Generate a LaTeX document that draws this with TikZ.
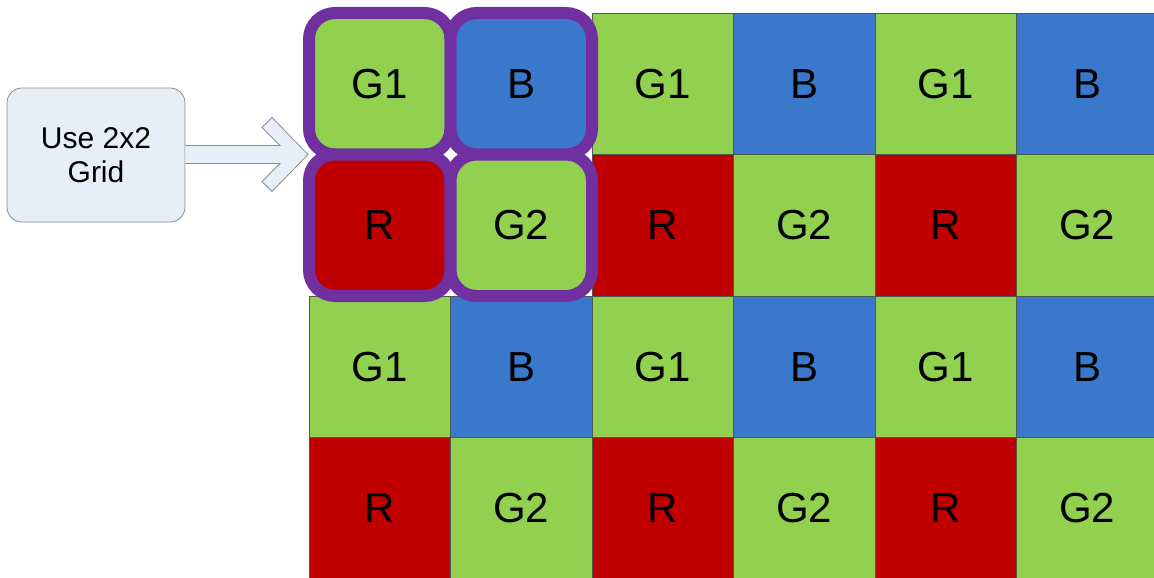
\documentclass[tikz,border=0pt]{standalone}
\usepackage{fontspec}
\setmainfont{Liberation Sans}
\usetikzlibrary{calc}
\definecolor{bayergreen}{HTML}{92D050}
\definecolor{bayerblue}{HTML}{3A78CC}
\definecolor{bayerred}{HTML}{C00000}
\definecolor{pickpurple}{HTML}{7030A0}
\definecolor{boxfill}{HTML}{E8EEF7}
\definecolor{boxline}{HTML}{8C8C8C}
\definecolor{cellline}{HTML}{4D5A4D}

\begin{document}
\begin{tikzpicture}[x=1pt, y=-1pt,
    cell/.style={draw=cellline, line width=0.8pt, minimum size=141.5pt, inner sep=0pt,
      outer sep=0pt, font=\fontsize{42}{50}\selectfont},
    pick/.style={cell, draw=pickpurple, line width=12pt, rounded corners=26pt},
    usebox/.style={draw=boxline, line width=0.8pt, fill=boxfill, rounded corners=15pt,
      minimum width=178pt, minimum height=134pt, align=center,
      font=\fontsize{30}{34}\selectfont},
    blockarrow/.style={draw=boxline, line width=0.8pt, fill=boxfill, line join=miter}]
    \useasboundingbox (0,0) rectangle (1154,578);

    % --- bayer mosaic, rows of G1/B and R/G2 ---
    \foreach \r/\cstart/\ea/\eb/\ca/\cb in {0/2/G1/B/bayergreen/bayerblue,
        1/2/R/G2/bayerred/bayergreen, 2/0/G1/B/bayergreen/bayerblue,
        3/0/R/G2/bayerred/bayergreen} {
      \foreach \c in {\cstart,...,5} {
        \ifodd\c\relax \def\lab{\eb}\def\col{\cb}\else \def\lab{\ea}\def\col{\ca}\fi
        \node[cell, fill=\col] (c\r\c) at ({379.75+141.5*\c},{83.75+141.5*\r}) {\lab};
      }
    }

    % --- the 2x2 block that is picked out ---
    \node[pick, fill=bayergreen] (c00) at (379.75,83.75) {G1};
    \node[pick, fill=bayerblue] (c01) at (521.25,83.75) {B};
    \node[pick, fill=bayerred] (c10) at (379.75,225.25) {R};
    \node[pick, fill=bayergreen] (c11) at (521.25,225.25) {G2};

    % --- label box and its arrow ---
    \node[usebox] (usegrid) at (96,155) {Use 2x2\\Grid};
    \coordinate (tip) at ($(c00.south west)+(-1,0)$);
    \draw[blockarrow]
      ($(usegrid.east |- tip)+(0,-9)$) -- ($(tip)+(-28,-9)$) -- ($(tip)+(-46,-27)$)
      -- ($(tip)+(-36,-37)$) -- (tip) -- ($(tip)+(-36,37)$) -- ($(tip)+(-46,27)$)
      -- ($(tip)+(-28,9)$) -- ($(usegrid.east |- tip)+(0,9)$);
  \end{tikzpicture}
\end{document}
